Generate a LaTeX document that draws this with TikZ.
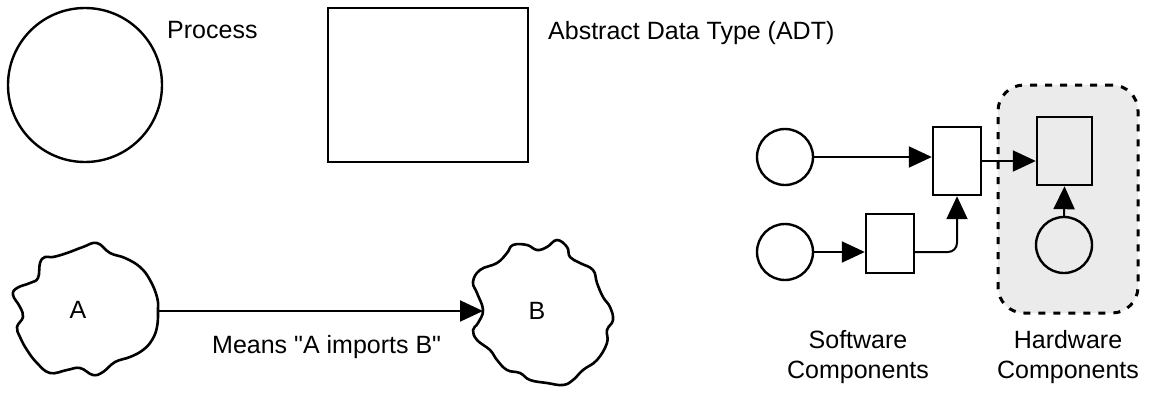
\documentclass[tikz,border=0pt]{standalone}
\usepackage{fontspec}
\setmainfont{Liberation Sans}
\usetikzlibrary{arrows.meta,calc}
\tikzset{
  shape line/.style={draw=black, line width=2.4pt},
  proc/.style={shape line, circle, inner sep=0pt},
  adt/.style={shape line, rectangle, inner sep=0pt},
  arr/.style={draw=black, line width=2pt, -{Triangle[length=23pt,width=21pt]}},
  lbl/.style={inner sep=0pt, font=\fontsize{25}{30}\selectfont},
  cloud line/.style={draw=black, line width=2.6pt, line join=round},
  hwregion/.style={draw=black, line width=3pt, dash pattern=on 7pt off 8pt, rounded corners=26pt, fill=black!8, inner sep=0pt},
}
\begin{document}
\begin{tikzpicture}[x=1pt,y=-1pt]
\useasboundingbox (0,0) rectangle (1157,394);
% top legend
\node[proc, minimum size=154pt] (process) at (85,85) {};
\node[lbl, anchor=base west] (processlbl) at (167,38) {Process};
\node[adt, minimum width=200pt, minimum height=154pt] (adtbox) at (428,85) {};
\node[lbl, anchor=base west] (adtlbl) at (548,39) {Abstract Data Type (ADT)};
% clouds
\draw[cloud line] plot[smooth cycle, tension=0.7] coordinates {
 (97,243) (110,253) (125,258) (140,267) (150,280) (157,297) (158,310) (157,327)
 (152,340) (143,350) (130,357) (115,362) (103,372) (93,375) (80,368) (67,370)
 (50,373) (37,363) (27,350) (20,337) (17,327) (23,317) (20,307) (13,295)
 (17,288) (30,283) (38,278) (40,263) (45,257) (53,257) (67,253) (83,247)};
\draw[cloud line] plot[smooth cycle, tension=0.7] coordinates {
 (557,240) (547,247) (537,250) (527,245) (513,245) (507,253) (497,263) (480,270)
 (473,282) (477,293) (483,310) (478,323) (473,330) (477,340) (490,350) (497,360)
 (507,370) (520,373) (530,380) (547,383) (563,385) (573,380) (583,370) (597,360)
 (607,343) (607,330) (613,320) (610,307) (603,297) (597,283) (593,270) (580,263)
 (570,257) (567,247)};
\coordinate (aR) at (159,311);
\coordinate (bL) at (483,311);
\node[lbl] (A) at (78,310) {A};
\node[lbl] (B) at (537,311) {B};
\draw[arr] (aR) -- (bL);
\node[lbl, anchor=base west] (means) at (212,353) {Means \textquotedbl A imports B\textquotedbl};
% right example
\node[hwregion, minimum width=140pt, minimum height=228pt] (hw) at (1068,199) {};
\node[proc, minimum size=56pt] (c1) at (785,157) {};
\node[proc, minimum size=56pt] (c2) at (785,252) {};
\node[adt, minimum width=48pt, minimum height=59pt] (sbox) at (890,243.5) {};
\node[adt, minimum width=48pt, minimum height=68pt] (mbox) at (957,161) {};
\node[adt, minimum width=55pt, minimum height=68pt] (rbox) at (1064.5,151) {};
\node[proc, minimum size=56pt] (c3) at (1064,245) {};
\draw[arr] (c1.east) -- (c1.east -| mbox.west);
\draw[arr] (mbox.east) -- (mbox.east -| rbox.west);
\draw[arr] (c2.east) -- (c2.east -| sbox.west);
\draw[arr, rounded corners=9pt] (c2.east -| sbox.east) -| (mbox.south);
\draw[arr] (c3.north) -- (rbox.south);
\node[lbl, anchor=base] (sw1) at (858,348) {Software};
\node[lbl, anchor=base] (sw2) at (858,378) {Components};
\node[lbl, anchor=base] (hw1) at (1068,348) {Hardware};
\node[lbl, anchor=base] (hw2) at (1068,378) {Components};
\end{tikzpicture}
\end{document}
